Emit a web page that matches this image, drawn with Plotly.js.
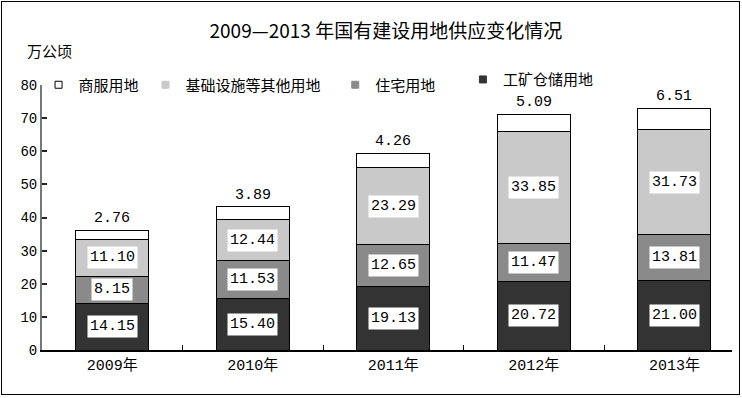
<!DOCTYPE html>
<html><head><meta charset="utf-8">
<script src="https://cdn.plot.ly/plotly-3.0.1.min.js"></script>
<style>
html,body{margin:0;padding:0;background:#fff;}
#wrap{position:relative;width:742px;height:398px;}
#chart{width:742px;height:398px;}
#frame{position:absolute;left:1px;top:1px;width:737px;height:392px;border:1.5px solid #000;pointer-events:none;}
</style></head>
<body><div id="wrap"><div id="chart"></div><div id="frame"></div></div>
<script>
const years = ["2009年","2010年","2011年","2012年","2013年"];
const industrial = [14.15, 15.40, 19.13, 20.72, 21.00];   // 工矿仓储用地
const residential = [8.15, 11.53, 12.65, 11.47, 13.81];   // 住宅用地
const infrastructure = [11.10, 12.44, 23.29, 33.85, 31.73]; // 基础设施等其他用地
const commercial = [2.76, 3.89, 4.26, 5.09, 6.51];        // 商服用地
const seriesNames = ["工矿仓储用地","住宅用地","基础设施等其他用地","商服用地"];
const seriesColors = ["#333333","#8a8a8a","#c9c9c9","#ffffff"];
const seriesData = [industrial, residential, infrastructure, commercial];
const legendIds = ["legend4","legend3","legend2","legend"];

const CJK = "Noto Sans CJK SC";
const MONO = "Liberation Mono, Noto Sans CJK SC";

const traces = seriesData.map((d,i)=>({
  type:"bar", x:years, y:d, name:seriesNames[i],
  marker:{color:seriesColors[i], line:{color:"#000", width:1}},
  width:0.52, showlegend:false, hoverinfo:"none"
}));
// small square legend swatches
seriesData.forEach((d,i)=>{
  traces.push({type:"scatter", mode:"markers", x:[null], y:[null], name:seriesNames[i],
    marker:{symbol:"square", size:7, color:seriesColors[i],
      line:{color: i===3 ? "#000" : seriesColors[i], width:1}},
    legend:legendIds[i], showlegend:true, hoverinfo:"none"});
});

const annotations = [];
years.forEach((yr,j)=>{
  let base = 0;
  seriesData.forEach((d,i)=>{
    const v = d[j];
    if(i < 3){
      annotations.push({x:yr, y:base+v/2, xref:"x", yref:"y", text:v.toFixed(2),
        showarrow:false, bgcolor:"#fff", borderpad:2,
        font:{family:MONO, size:15, color:"#000"}});
    } else {
      annotations.push({x:yr, y:base+v, xref:"x", yref:"y", text:v.toFixed(2),
        showarrow:false, yanchor:"bottom", yshift:1,
        font:{family:MONO, size:15, color:"#000"}});
    }
    base += v;
  });
});
annotations.push({xref:"paper", yref:"paper", x:-0.025, y:1.13, xanchor:"left", yanchor:"middle",
  text:"万公顷", showarrow:false, font:{family:CJK, size:15, color:"#000"}});

function lg(x,y){return {x:x, y:y, xref:"paper", yref:"paper", xanchor:"left", yanchor:"middle",
  orientation:"h", font:{family:CJK, size:15, color:"#000"}, bgcolor:"rgba(0,0,0,0)", itemwidth:30};}

const layout = {
  width:742, height:398,
  margin:{l:42, r:10, t:85, b:48},
  paper_bgcolor:"#fff", plot_bgcolor:"#fff",
  barmode:"stack",
  showlegend:true,
  title:{text:"2009—2013 年国有建设用地供应变化情况", x:0.52, xanchor:"center", y:0.92, yanchor:"middle",
    font:{family:CJK, size:19, color:"#000"}},
  xaxis:{type:"category", range:[-0.5,4.41], showline:true, linecolor:"#000", linewidth:2,
    ticks:"inside", tickson:"boundaries", ticklen:5, tickcolor:"#000", showgrid:false,
    tickfont:{family:MONO, size:15, color:"#000"}, zeroline:false},
  yaxis:{range:[0,80], dtick:10, showline:true, linecolor:"#777", linewidth:2,
    ticks:"inside", ticklen:5, tickwidth:2, tickcolor:"#222", showgrid:false, zeroline:false,
    tickfont:{family:MONO, size:14, color:"#000"}},
  legend: lg(-0.005, 1.0),
  legend2: lg(0.15, 1.0),
  legend3: lg(0.425, 1.0),
  legend4: lg(0.61, 1.02),
  annotations:annotations
};
Plotly.newPlot("chart", traces, layout, {displayModeBar:false, staticPlot:true});
</script></body></html>
